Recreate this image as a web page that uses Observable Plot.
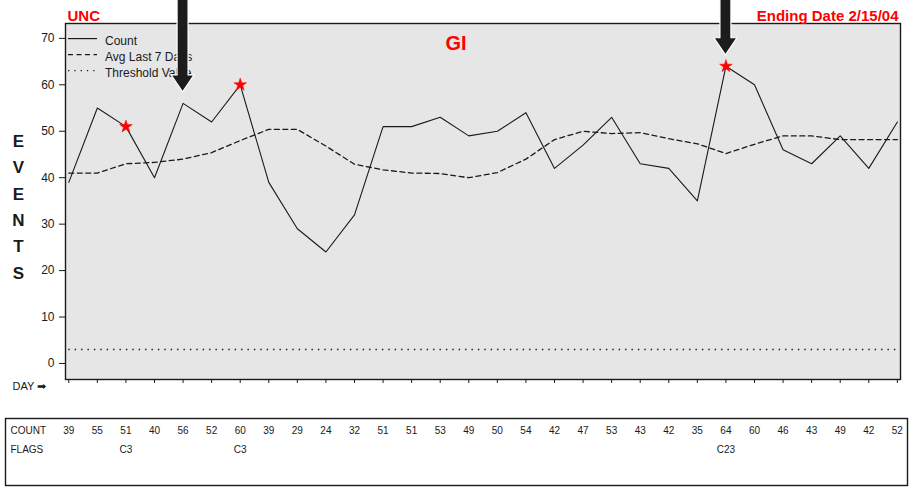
<!DOCTYPE html>
<html>
<head>
<meta charset="utf-8">
<script src="https://cdn.jsdelivr.net/npm/d3@7"></script>
<script src="https://cdn.jsdelivr.net/npm/@observablehq/plot@0.6"></script>
<style>
  body { margin: 0; background: #fff; }
  #chart { width: 910px; height: 487px; position: relative; }
  #chart svg { display: block; }
</style>
</head>
<body>
<div id="chart"></div>
<script>
// ---- data ----
const days = [1,2,3,4,5,6,7,8,9,10,11,12,13,14,15,16,17,18,19,20,21,22,23,24,25,26,27,28,29,30];
const counts = [39,55,51,40,56,52,60,39,29,24,32,51,51,53,49,50,54,42,47,53,43,42,35,64,60,46,43,49,42,52];
const avg7 = [41,41,43,43.3,44,45.4,48,50.4,50.4,46.8,42.9,41.7,41,40.9,40,41.1,44,48.2,50,49.5,49.7,48.4,47.3,45.2,47.2,49,49,48.2,48.2,48.2];
const threshold = 3;
const flags = ["","","C3","","","","C3","","","","","","","","","","","","","","","","","C23","","","","","",""];
const arrowDays = [5, 24];
const yTicks = [0,10,20,30,40,50,60,70];
const legendLabels = ["Count", "Avg Last 7 Days", "Threshold Value"];
const legendDash = [null, "5,3.5", "1.3,5"];

const rows = days.map((d, i) => ({day: d, count: counts[i], avg: avg7[i], flag: flags[i]}));
const xDomain = [0.885, 30.11];
const FONT = "'Liberation Sans', Arial, Helvetica, sans-serif";
const INK = "#1a1a1a";

function legendMark(index, scales, values, dims) {
  const g = d3.create("svg:g").attr("font-family", FONT).attr("font-size", 12).attr("fill", INK)
    .attr("text-anchor", "start");
  const x0 = dims.marginLeft + 3, x1 = dims.marginLeft + 32, tx = dims.marginLeft + 40;
  legendLabels.forEach((lab, i) => {
    const y = dims.marginTop + 15.6 + i * 16;
    g.append("line").attr("x1", x0).attr("x2", x1).attr("y1", y).attr("y2", y)
      .attr("stroke", INK).attr("stroke-width", 1.2)
      .attr("stroke-dasharray", legendDash[i]);
    g.append("text").attr("x", tx).attr("y", y + 2).attr("dy", "0.35em")
      .attr("text-anchor", "start").text(lab);
  });
  return g.node();
}

function arrowMark(index, scales, values, dims) {
  const g = d3.create("svg:g");
  arrowDays.forEach(d => {
    const cx = scales.x(d);
    const tip = scales.y(counts[d - 1]) - 11;
    const headLen = 17, headW = 11.5, shaftW = 5.5, top = -2;
    const p = `M${cx - shaftW},${top}L${cx + shaftW},${top}L${cx + shaftW},${tip - headLen}` +
              `L${cx + headW},${tip - headLen}L${cx},${tip}L${cx - headW},${tip - headLen}` +
              `L${cx - shaftW},${tip - headLen}Z`;
    g.append("path").attr("d", p).attr("fill", "#1c1c1c").attr("stroke", "#fff").attr("stroke-width", 1.2);
  });
  return g.node();
}

const main = Plot.plot({
  width: 910,
  height: 410,
  marginTop: 23,
  marginBottom: 31,
  marginLeft: 65,
  marginRight: 10,
  style: {fontFamily: FONT, fontSize: "12px", background: "transparent", color: INK, overflow: "visible"},
  x: {domain: xDomain, label: null},
  y: {domain: [-3.45, 73.2], label: null},
  marks: [
    Plot.frame({fill: "#e6e6e6", stroke: null}),
    Plot.ruleY([threshold], {x1: days[0], x2: days[days.length - 1], stroke: INK, strokeWidth: 1.4, strokeDasharray: "1.4,5"}),
    Plot.line(rows, {x: "day", y: "avg", stroke: INK, strokeWidth: 1.3, strokeDasharray: "5,3.5"}),
    Plot.line(rows, {x: "day", y: "count", stroke: INK, strokeWidth: 1.1}),
    Plot.dot(rows.filter(d => d.flag), {x: "day", y: "count", symbol: "star", fill: "red", stroke: "red", strokeWidth: 0.5, r: 4}),
    Plot.axisY({ticks: yTicks, tickSize: 6, tickPadding: 5, fontSize: 12, stroke: INK}),
    Plot.axisX({ticks: days, tickSize: 4, tickFormat: () => "", stroke: INK}),
    Plot.frame({stroke: INK, strokeWidth: 1.4}),
    legendMark,
    Plot.text(["GI"], {frameAnchor: "top", dx: -27, dy: 20, fill: "red", fontSize: 20, fontWeight: "bold", lineAnchor: "middle"}),
    Plot.text(["UNC"], {frameAnchor: "top-left", dx: 2, dy: -3, fill: "red", fontSize: 15, fontWeight: "bold", textAnchor: "start", lineAnchor: "bottom"}),
    Plot.text(["Ending Date 2/15/04"], {frameAnchor: "top-right", dx: -2, dy: -3, fill: "red", fontSize: 15, fontWeight: "bold", textAnchor: "end", lineAnchor: "bottom"}),
    Plot.text(["E\nV\nE\nN\nT\nS"], {frameAnchor: "left", dx: -47, dy: 3, fontSize: 17, fontWeight: "bold", lineHeight: 1.55, textAnchor: "middle", fill: INK}),
    Plot.text(["DAY \u27A1"], {frameAnchor: "bottom-left", dx: -53, dy: 7, fontSize: 11, textAnchor: "start", lineAnchor: "middle", fill: INK}),
    arrowMark
  ]
});

const table = Plot.plot({
  width: 910,
  height: 77,
  marginTop: 8,
  marginBottom: 2,
  marginLeft: 5,
  marginRight: 3,
  style: {fontFamily: FONT, fontSize: "10px", background: "transparent", color: INK, overflow: "visible"},
  x: {domain: xDomain, range: [65, 900], axis: null},
  marks: [
    Plot.frame({stroke: INK, strokeWidth: 1.4}),
    Plot.text(["COUNT"], {frameAnchor: "top-left", dx: 5, dy: 12, textAnchor: "start", lineAnchor: "middle", fontSize: 10}),
    Plot.text(["FLAGS"], {frameAnchor: "top-left", dx: 5, dy: 31, textAnchor: "start", lineAnchor: "middle", fontSize: 10}),
    Plot.text(rows, {x: "day", text: d => String(d.count), frameAnchor: "top", dy: 12, lineAnchor: "middle", fontSize: 10}),
    Plot.text(rows.filter(d => d.flag), {x: "day", text: "flag", frameAnchor: "top", dy: 31, lineAnchor: "middle", fontSize: 10})
  ]
});

const chart = document.getElementById("chart");
chart.appendChild(main);
chart.appendChild(table);
</script>
</body>
</html>
